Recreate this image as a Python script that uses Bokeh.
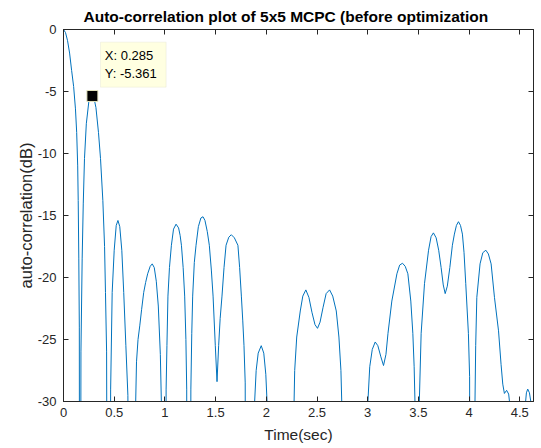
from bokeh.plotting import figure
from bokeh.models import Range1d, LinearAxis, FixedTicker, BoxAnnotation, Label
from bokeh.embed import file_html
from bokeh.resources import INLINE

# ---- data ----
time_sec = [
    0.000, 0.020, 0.040, 0.060, 0.080, 0.100, 0.118, 0.130, 0.140, 0.145, 0.151, 0.156, 0.160,
    0.166, 0.172, 0.184, 0.195, 0.207, 0.225, 0.250, 0.270, 0.285, 0.300, 0.320, 0.345, 0.365, 0.388, 0.405, 0.414, 0.425, 0.436,
    0.450, 0.465, 0.480, 0.500, 0.520, 0.537, 0.555, 0.575, 0.594, 0.615, 0.635, 0.652,
    0.705, 0.712, 0.720, 0.735, 0.752, 0.770, 0.791, 0.810, 0.830, 0.855, 0.875, 0.895, 0.915, 0.935, 0.955, 0.965, 0.970,
    1.003, 1.012, 1.020, 1.030, 1.045, 1.064, 1.085, 1.110, 1.135, 1.150, 1.163, 1.180, 1.195, 1.207, 1.215, 1.222,
    1.248, 1.256, 1.265, 1.274, 1.290, 1.307, 1.330, 1.355, 1.376, 1.395, 1.418, 1.438, 1.458, 1.475, 1.497, 1.514,
    1.530, 1.545, 1.563, 1.583, 1.603, 1.630, 1.655, 1.685, 1.720, 1.737, 1.754, 1.768, 1.780, 1.792, 1.798,
    1.875, 1.885, 1.900, 1.920, 1.950, 1.975, 1.995, 2.010, 2.022,
    2.268, 2.274, 2.280, 2.300, 2.335, 2.360, 2.390, 2.420, 2.450, 2.480, 2.505, 2.530, 2.560, 2.590, 2.624, 2.655, 2.690, 2.716, 2.736, 2.744, 2.750,
    2.995, 3.002, 3.020, 3.045, 3.074, 3.100, 3.130, 3.156, 3.180, 3.200, 3.238, 3.288, 3.315, 3.343, 3.370, 3.396, 3.425, 3.445, 3.458, 3.466, 3.470,
    3.503, 3.509, 3.527, 3.560, 3.600, 3.625, 3.648, 3.675, 3.700, 3.724, 3.745, 3.764, 3.785, 3.810, 3.835, 3.855, 3.875, 3.895, 3.915, 3.934, 3.950, 3.967, 3.993, 4.005, 4.012,
    4.052, 4.058, 4.065, 4.076, 4.108, 4.135, 4.165, 4.190, 4.217, 4.250, 4.290, 4.315, 4.332, 4.348, 4.370, 4.390, 4.405, 4.412,
    4.548, 4.555, 4.565, 4.578, 4.595, 4.612, 4.620,
]
autocorr_db = [
    0.0, -0.25, -0.9, -1.9, -3.3, -4.6, -6.4, -8.3, -11.0, -13.8, -18.5, -24.0, -60.0,
    -60.0, -26.0, -18.5, -14.0, -10.4, -7.6, -5.8, -5.4, -5.361, -5.5, -6.3, -8.3, -10.4, -13.8, -17.5, -21.2, -26.0, -60.0,
    -60.0, -29.0, -21.2, -17.8, -15.8, -15.4, -15.9, -17.8, -21.2, -25.5, -29.5, -60.0,
    -60.0, -30.0, -26.8, -25.0, -23.9, -22.6, -21.2, -20.4, -19.7, -19.1, -18.9, -19.2, -20.3, -22.3, -26.2, -30.0, -60.0,
    -60.0, -29.0, -25.5, -21.5, -19.2, -17.4, -16.1, -15.7, -16.0, -16.6, -17.4, -19.2, -21.5, -25.0, -29.0, -60.0,
    -60.0, -29.0, -24.5, -21.5, -18.8, -17.4, -15.9, -15.2, -15.1, -15.4, -16.3, -17.4, -19.4, -21.5, -25.5, -28.4,
    -25.5, -23.3, -21.5, -19.2, -17.4, -16.75, -16.55, -16.8, -17.4, -19.2, -21.5, -23.5, -25.5, -28.5, -60.0,
    -60.0, -30.0, -27.5, -26.1, -25.5, -26.1, -27.8, -30.5, -60.0,
    -60.0, -30.0, -27.5, -24.8, -22.7, -21.5, -21.0, -21.6, -22.8, -23.8, -24.1, -23.6, -22.4, -21.3, -21.0, -21.5, -22.7, -24.8, -27.5, -30.0, -60.0,
    -60.0, -30.0, -27.2, -25.8, -25.2, -25.5, -26.4, -27.1, -26.2, -24.5, -21.9, -19.7, -19.0, -18.85, -19.1, -19.7, -21.9, -24.5, -27.2, -30.0, -60.0,
    -60.0, -30.0, -24.5, -20.5, -17.8, -16.7, -16.4, -16.8, -17.8, -19.2, -20.6, -21.3, -20.7, -19.2, -17.4, -16.5, -15.8, -15.5, -15.8, -16.5, -18.0, -20.5, -24.5, -28.0, -60.0,
    -60.0, -30.0, -25.5, -21.6, -18.9, -18.0, -17.8, -18.1, -18.9, -21.6, -24.3, -27.0, -28.6, -29.35, -29.1, -29.4, -30.5, -60.0,
    -60.0, -30.2, -29.3, -29.0, -29.3, -30.2, -60.0,
]
x_ticks = [0, 0.5, 1, 1.5, 2, 2.5, 3, 3.5, 4, 4.5]
x_tick_labels = ["0", "0.5", "1", "1.5", "2", "2.5", "3", "3.5", "4", "4.5"]
y_ticks = [-30, -25, -20, -15, -10, -5, 0]
y_tick_labels = ["-30", "-25", "-20", "-15", "-10", "-5", "0"]
tip_x = 0.285
tip_y = -5.361

FONT = "Liberation Sans"
AX = "#262626"

p = figure(
    frame_width=470, frame_height=372,
    x_range=Range1d(0, 4.635), y_range=Range1d(-30, 0),
    output_backend="svg", toolbar_location=None,
    min_border_left=63, min_border_right=8, min_border_top=29, min_border_bottom=47,
    background_fill_color="white", border_fill_color="white",
)
p.grid.visible = False
p.outline_line_color = AX
p.outline_line_width = 1

p.title.text = "Auto-correlation plot of 5x5 MCPC (before optimization"
p.title.text_font = FONT
p.title.text_font_size = "15.5px"
p.title.text_font_style = "bold"
p.title.text_color = "black"
p.title.align = "left"
p.title.offset = 20

p.line(time_sec, autocorr_db, line_color="#0072BD", line_width=1)

def style_axis(ax, labels):
    ax.axis_line_color = AX
    ax.major_tick_line_color = AX
    ax.major_tick_in = 5
    ax.major_tick_out = 0
    ax.minor_tick_in = 0
    ax.minor_tick_out = 0
    ax.major_label_text_font = FONT
    ax.major_label_text_font_size = "13px"
    ax.major_label_text_color = AX
    ax.axis_label_text_font = FONT
    ax.axis_label_text_font_size = "15.5px"
    ax.axis_label_text_font_style = "normal"
    ax.axis_label_text_color = AX
    if not labels:
        ax.major_label_text_color = None
        ax.major_label_text_font_size = "1px"
        ax.major_label_standoff = 0

p.xaxis.ticker = FixedTicker(ticks=x_ticks)
p.xaxis.major_label_overrides = dict(zip(x_ticks, x_tick_labels))
p.yaxis.ticker = FixedTicker(ticks=y_ticks)
p.yaxis.major_label_overrides = dict(zip(y_ticks, y_tick_labels))
p.xaxis.axis_label = "Time(sec)"
p.yaxis.axis_label = "auto-correlation(dB)"
style_axis(p.xaxis[0], True)
style_axis(p.yaxis[0], True)
p.yaxis.axis_label_text_font_size = "16.5px"
p.xaxis.major_label_standoff = 6
p.xaxis.axis_label_standoff = 6
p.yaxis.major_label_standoff = 7
p.yaxis.axis_label_standoff = 0

top = LinearAxis(ticker=FixedTicker(ticks=x_ticks))
style_axis(top, False)
p.add_layout(top, "above")
right = LinearAxis(ticker=FixedTicker(ticks=y_ticks))
style_axis(right, False)
p.add_layout(right, "right")

# data tip
p.add_layout(BoxAnnotation(left=0.365, right=1.012, top=-1.02, bottom=-4.65,
                           fill_color="#FFFFE1", fill_alpha=1.0,
                           line_color="#D9D9C8", line_width=1))
p.add_layout(Label(x=0.407, y=-2.1, text="X: %.3f" % tip_x, text_font=FONT,
                   text_font_size="13px", text_color="black", text_baseline="middle"))
p.add_layout(Label(x=0.407, y=-3.57, text="Y: %.3f" % tip_y, text_font=FONT,
                   text_font_size="13px", text_color="black", text_baseline="middle"))
p.scatter([tip_x], [tip_y], marker="square", size=11, fill_color="black",
          line_color="#E6E6C0", line_width=1)

open("out.html", "w").write(file_html(p, INLINE))
